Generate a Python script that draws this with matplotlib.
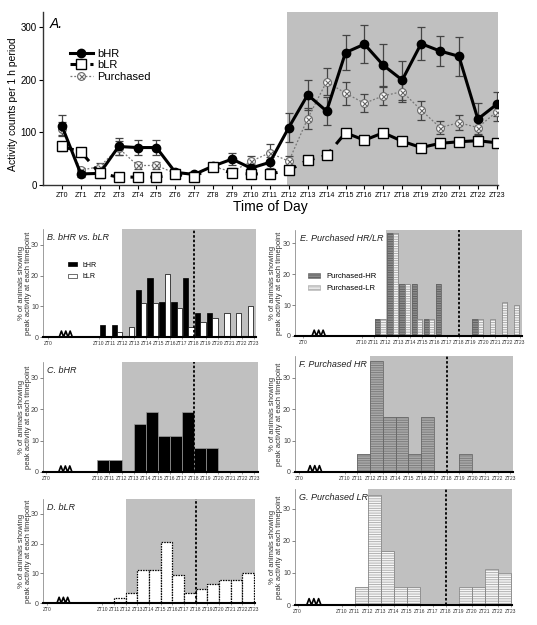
import numpy as np
import matplotlib
matplotlib.use("Agg")
import matplotlib.pyplot as plt
from matplotlib.patches import Patch
from matplotlib.legend_handler import HandlerTuple

plt.rcParams['font.family'] = ['Liberation Sans', 'DejaVu Sans']
plt.rcParams['hatch.linewidth'] = 0.6

# ---------------- Panel A data ----------------
zt_hours = list(range(24))
zt_labels = [f"ZT{h}" for h in zt_hours]

bhr_mean = [112, 21, 22, 73, 71, 71, 24, 20, 36, 49, 32, 43, 109, 171, 140, 251,
            267, 227, 199, 268, 254, 244, 125, 153]
bhr_err = [20, 5, 8, 17, 14, 14, 6, 5, 6, 11, 8, 10, 28, 28, 26, 33,
           36, 40, 37, 31, 29, 37, 30, 23]
blr_mean = [73, 63, 22, 15, 15, 15, 20, 16, 35, 22, 21, 21, 28, 47, 56, 99,
            85, 99, 83, 71, 79, 82, 84, 80]
blr_err = [8, 6, 5, 4, 4, 4, 4, 3, 5, 4, 4, 4, 5, 5, 6, 7, 6, 6, 6, 5, 5, 5, 6, 5]
pur_mean = [107, 28, 35, 70, 37, 37, 22, 19, 35, 25, 45, 61, 45, 126, 196, 174,
            155, 169, 177, 142, 109, 118, 109, 139]
pur_err = [12, 5, 6, 14, 7, 7, 4, 4, 6, 8, 10, 17, 10, 20, 25, 22,
           17, 17, 20, 18, 12, 14, 12, 17]

# ---------------- Bar panel data (ZT10 .. ZT22) ----------------
bar_hours = list(range(10, 23))
bar_tick_hours = list(range(10, 24))
bhr_pct = [3.8, 3.8, 0, 15.4, 19.2, 11.5, 11.5, 19.2, 7.7, 7.7, 0, 0, 0]
blr_pct = [0, 1.6, 3.2, 11.1, 11.1, 20.6, 9.5, 3.2, 4.8, 6.3, 7.9, 7.9, 10.0]
pur_hr_pct_E = [0, 5.6, 33.3, 16.7, 16.7, 5.6, 16.7, 0, 0, 5.6, 0, 0, 0]
pur_lr_pct_E = [0, 5.6, 33.3, 16.7, 5.6, 5.6, 0, 0, 0, 5.6, 5.6, 11.1, 10.0]
pur_hr_pct_F = [0, 5.9, 35.3, 17.6, 17.6, 5.9, 17.6, 0, 0, 5.9, 0, 0, 0]
pur_lr_pct_G = [0, 5.6, 34.3, 16.9, 5.6, 5.6, 0, 0, 0, 5.6, 5.6, 11.1, 10.0]

GRAY = '#c0c0c0'
W, H = 537, 625
fig = plt.figure(figsize=(5.37, 6.25), dpi=100)


def box(l, r, t, b):
    return [l / W, 1 - b / H, (r - l) / W, (b - t) / H]


# ================= Panel A =================
axA = fig.add_axes(box(43, 497.7, 12, 185))
axA.axvspan(11.9, 23.05, color=GRAY, lw=0, zorder=0)
x = np.array(zt_hours)
ekw = dict(fmt='none', ecolor='#444444', elinewidth=0.9, capsize=3.0, capthick=0.9)
axA.errorbar(x, pur_mean, yerr=pur_err, zorder=2, **ekw)
axA.errorbar(x, bhr_mean, yerr=bhr_err, zorder=2, **ekw)
axA.errorbar(x, blr_mean, yerr=blr_err, zorder=2, **ekw)
lp, = axA.plot(x, pur_mean, ls=(0, (1.5, 1.5)), color='#777777', lw=0.9,
               marker='o', ms=5.6, mfc='white', mec='#666666', mew=0.8, zorder=3)
lpx, = axA.plot(x, pur_mean, ls='none', marker='x', ms=3.6, mec='#666666',
                mew=0.8, zorder=3.1)
lh, = axA.plot(x, bhr_mean, color='black', lw=2.2, marker='o', ms=6.0,
               mfc='black', mec='black', zorder=4)
ll, = axA.plot(x, blr_mean, color='black', lw=2.2, ls=(0, (4, 2.5)), marker='s',
               ms=6.8, mfc='white', mec='black', mew=1.0, zorder=5)
axA.set_xlim(-1, 23.05)
axA.set_ylim(0, 328)
for s in ['top', 'right']:
    axA.spines[s].set_visible(False)
for s in ['left', 'bottom']:
    axA.spines[s].set_linewidth(1.0)
    axA.spines[s].set_color('#333333')
axA.set_xticks(x)
axA.set_xticklabels(zt_labels, fontsize=5)
axA.set_yticks([0, 100, 200, 300])
axA.tick_params(axis='y', labelsize=7, length=3, width=0.8, pad=1.5)
axA.tick_params(axis='x', length=3, width=0.8, pad=2)
axA.text(0.015, 0.97, 'A.', transform=axA.transAxes, fontsize=10,
         style='italic', va='top', ha='left')
axA.legend([lh, ll, (lp, lpx)], ['bHR', 'bLR', 'Purchased'],
           handler_map={tuple: HandlerTuple(ndivide=1, pad=0)},
           loc='upper left', bbox_to_anchor=(0.048, 0.82), frameon=False,
           fontsize=8, handlelength=2.0, labelspacing=0.15, borderpad=0,
           handletextpad=0.4)
fig.text(13 / W, 1 - 104 / H, 'Activity counts per 1 h period', rotation=90,
         ha='center', va='center', fontsize=7.5)
fig.text(270 / W, 1 - 207 / H, 'Time of Day', ha='center', va='center',
         fontsize=10)

# ================= Bar panels =================
specs = {
    'B': dict(px=(43, 256, 229, 337), xlim=(5.34, 23.2), zt0=5.75, zz=6.7, ytop=35.2,
              title='B. bHR vs. bLR'),
    'C': dict(px=(43, 258, 362, 472), xlim=(5.5, 23.3), zt0=5.75, zz=6.8, ytop=35.1,
              title='C. bHR'),
    'D': dict(px=(43, 255, 499, 603), xlim=(4.9, 23.1), zt0=5.25, zz=6.1, ytop=35.0,
              title='D. bLR'),
    'E': dict(px=(295, 522, 230, 336), xlim=(4.5, 23.2), zt0=5.2, zz=5.9, ytop=34.2,
              title='E. Purchased HR/LR'),
    'F': dict(px=(295, 513, 356, 472), xlim=(6.1, 23.2), zt0=6.4, zz=7.1, ytop=37.0,
              title='F. Purchased HR'),
    'G': dict(px=(295, 512, 489, 605), xlim=(6.4, 23.1), zt0=6.6, zz=7.3, ytop=36.2,
              title='G. Purchased LR'),
}


def setup_bar_axes(key):
    sp = specs[key]
    ax = fig.add_axes(box(*sp['px']))
    xmin, xmax = sp['xlim']
    ax.set_xlim(xmin, xmax)
    ax.set_ylim(0, sp['ytop'])
    ax.axvspan(12, xmax, color=GRAY, lw=0, zorder=0)
    ax.axvline(18, color='black', ls=(0, (1.4, 1.1)), lw=1.3, zorder=5)
    for s in ['top', 'right']:
        ax.spines[s].set_visible(False)
    ax.spines['left'].set_linewidth(0.5)
    ax.spines['left'].set_color('#777777')
    ax.spines['bottom'].set_linewidth(1.5)
    ax.spines['bottom'].set_color('black')
    ax.spines['bottom'].set_zorder(6)
    # axis-break zigzag
    zx = sp['zz'] + np.linspace(0, 1.1, 7)
    zy = np.array([0, 1, 0, 1, 0, 1, 0]) * sp['ytop'] * 0.055
    ax.plot(zx, zy, color='black', lw=1.2, clip_on=False, zorder=7)
    ax.set_xticks([sp['zt0']] + bar_tick_hours)
    ax.set_xticklabels(['ZT0'] + [f'ZT{h}' for h in bar_tick_hours], fontsize=3.5,
                       color='#333333')
    ax.tick_params(axis='x', length=1.5, width=0.4, pad=1.5, color='#555555')
    ax.set_yticks([0, 10, 20, 30])
    ax.tick_params(axis='y', labelsize=5, length=2, width=0.5, pad=1,
                   color='#555555', labelcolor='#444444')
    ax.text(0.02, 0.965, sp['title'], transform=ax.transAxes, fontsize=6.5,
            style='italic', va='top', ha='left', color='#222222', zorder=8)
    l, r, t, b = sp['px']
    lx = 25 if l < 200 else 276
    fig.text(lx / W, 1 - (t + b) / 2 / H,
             '% of animals showing\npeak activity at each timepoint',
             rotation=90, ha='center', va='center', fontsize=5.5,
             linespacing=1.0, color='#333333')
    return ax


def hatched_bars(ax, left, vals, width, face, hatchc, edge, lw=0.6):
    ax.bar(left, vals, width=width, align='edge', color=face, edgecolor=hatchc,
           hatch='-------', lw=0, zorder=2)
    ax.bar(left, vals, width=width, align='edge', fill=False, edgecolor=edge,
           lw=lw, zorder=3)


bh = np.array(bar_hours, dtype=float)
pair_w = 0.44

# B
axB = setup_bar_axes('B')
axB.bar(bh + 0.1, bhr_pct, width=pair_w, align='edge', color='black',
        edgecolor='black', lw=0.5, zorder=2)
axB.bar(bh + 0.1 + pair_w, blr_pct, width=pair_w, align='edge', color='white',
        edgecolor='black', lw=0.5, zorder=2)
axB.legend([Patch(facecolor='black', edgecolor='black', lw=0.5),
            Patch(facecolor='white', edgecolor='#333333', lw=0.5)],
           ['bHR', 'bLR'], loc='upper left', bbox_to_anchor=(0.1, 0.73),
           frameon=False, fontsize=5, handlelength=1.3, handleheight=0.6,
           labelspacing=0.7, borderpad=0, handletextpad=0.8)

# C
axC = setup_bar_axes('C')
axC.bar(bh, bhr_pct, width=1.0, align='edge', color='black',
        edgecolor='#9a9a9a', lw=0.5, zorder=2)

# D
axD = setup_bar_axes('D')
axD.bar(bh, blr_pct, width=1.0, align='edge', color='white',
        edgecolor='black', lw=0.9, ls=(0, (1.2, 0.9)), zorder=2)

# E
axE = setup_bar_axes('E')
hatched_bars(axE, bh + 0.1, pur_hr_pct_E, pair_w, '#8c8c8c', '#5a5a5a', '#666666')
hatched_bars(axE, bh + 0.1 + pair_w, pur_lr_pct_E, pair_w, '#f4f4f4', '#a0a0a0',
             '#8a8a8a')
hE = Patch(facecolor='#8c8c8c', edgecolor='#5a5a5a', hatch='-------', lw=0.4)
lE = Patch(facecolor='#f4f4f4', edgecolor='#a0a0a0', hatch='-------', lw=0.4)
axE.legend([hE, lE], ['Purchased-HR', 'Purchased-LR'], loc='upper left',
           bbox_to_anchor=(0.04, 0.63), frameon=False, fontsize=5.5,
           handlelength=1.6, handleheight=0.6, labelspacing=0.6, borderpad=0,
           handletextpad=0.8)

# F
axF = setup_bar_axes('F')
hatched_bars(axF, bh, pur_hr_pct_F, 1.0, '#a9a9a9', '#777777', '#6a6a6a')

# G
axG = setup_bar_axes('G')
hatched_bars(axG, bh, pur_lr_pct_G, 1.0, '#f6f6f6', '#a8a8a8', '#8a8a8a')

fig.savefig('out.png', dpi=100)
